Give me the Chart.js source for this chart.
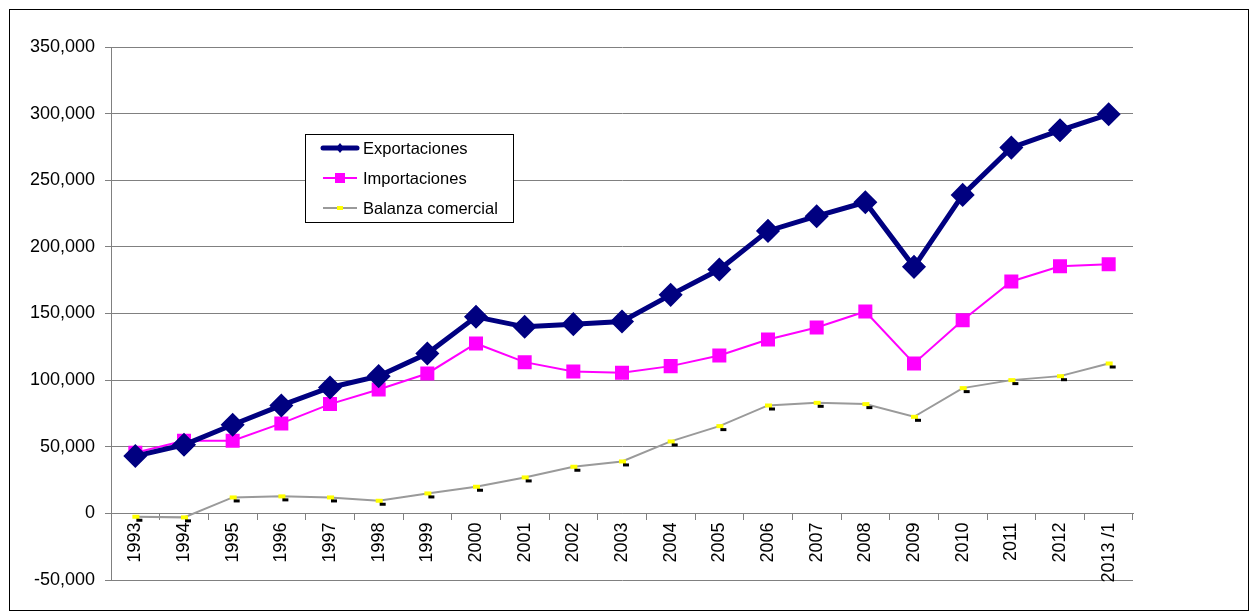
<!DOCTYPE html>
<html>
<head>
<meta charset="utf-8">
<script src="https://cdn.jsdelivr.net/npm/chart.js@4"></script>
<style>
  html, body { margin: 0; padding: 0; background: #fff; }
  body { width: 1258px; height: 613px; position: relative; overflow: hidden; font-family: "Liberation Sans", Arial, sans-serif; }
  .frame { position: absolute; left: 9px; top: 9px; width: 1240px; height: 602px; border: 1px solid #000; box-sizing: border-box; }
  .frame canvas { position: absolute; left: 0; top: 0; }
  .legend { position: absolute; left: 305px; top: 134px; width: 209px; height: 89px; border: 1px solid #000; box-sizing: border-box; background: #fff; }
  .legend .row { position: absolute; left: 14px; height: 20px; display: flex; align-items: center; font-size: 16.5px; color: #000; }
  .legend .row canvas { margin-right: 3px; }
</style>
</head>
<body>
<div class="frame"><canvas id="chart" width="1238" height="600"></canvas></div>
<div class="legend" id="legend"></div>
<script>
const years = ['1993', '1994', '1995', '1996', '1997', '1998', '1999', '2000', '2001', '2002', '2003',
  '2004', '2005', '2006', '2007', '2008', '2009', '2010', '2011', '2012', '2013 /1'];

const exportaciones = [43000, 51500, 66500, 81000, 94500, 103000, 120000, 147500, 140000, 142000, 144000,
  164000, 183000, 212000, 223000, 233500, 185000, 239000, 274500, 287500, 299500];

const importaciones = [45500, 54500, 54500, 67500, 82000, 93000, 105000, 127500, 113500, 106500, 105500,
  110500, 118500, 130500, 139500, 151500, 112500, 145000, 174000, 185500, 187000];

const balanza = [-2500, -3000, 12000, 12800, 12000, 9500, 15000, 20000, 27000, 35000, 39000,
  54000, 65500, 81000, 83000, 82000, 72500, 94000, 100000, 103000, 112500];

const yTicks = { min: -50000, max: 350000, step: 50000 };

const FONT = '"Liberation Sans", Arial, sans-serif';

// yellow marker with small black shadow under it
function balanzaMarker() {
  const c = document.createElement('canvas');
  c.width = 16; c.height = 12;
  const g = c.getContext('2d');
  g.fillStyle = '#000';
  g.fillRect(9, 8, 6, 3);
  g.fillStyle = '#ffff00';
  g.fillRect(5, 4, 7, 4);
  return c;
}

const ctx = document.getElementById('chart').getContext('2d');
new Chart(ctx, {
  type: 'line',
  data: {
    labels: years,
    datasets: [
      {
        label: 'Exportaciones',
        data: exportaciones,
        borderColor: '#000080',
        backgroundColor: '#000080',
        borderWidth: 5,
        pointStyle: 'rectRot',
        pointRadius: 8.5,
        pointHoverRadius: 8.5,
        order: 1
      },
      {
        label: 'Importaciones',
        data: importaciones,
        borderColor: '#ff00ff',
        backgroundColor: '#ff00ff',
        borderWidth: 2,
        pointStyle: 'rect',
        pointRadius: 8.5,
        pointHoverRadius: 8.5,
        order: 2
      },
      {
        label: 'Balanza comercial',
        data: balanza,
        borderColor: '#9a9a9a',
        backgroundColor: '#ffff00',
        borderWidth: 2,
        pointStyle: balanzaMarker(),
        order: 3
      }
    ]
  },
  options: {
    responsive: false,
    animation: false,
    layout: { padding: { top: 37, right: 115, bottom: 30, left: 0 } },
    plugins: {
      legend: { display: false },
      tooltip: { enabled: false }
    },
    elements: { line: { tension: 0 } },
    scales: {
      x: {
        type: 'category',
        position: { y: 0 },
        offset: true,
        grid: {
          offset: true,
          drawOnChartArea: false,
          drawTicks: true,
          tickLength: 6,
          color: '#808080'
        },
        border: { display: true, color: '#808080', width: 1 },
        ticks: {
          autoSkip: false,
          minRotation: 90,
          maxRotation: 90,
          padding: 3,
          color: '#000',
          font: { family: FONT, size: 18 }
        }
      },
      y: {
        min: yTicks.min,
        max: yTicks.max,
        afterFit: (s) => { s.width = 101; },
        grid: {
          color: '#808080',
          lineWidth: 1,
          drawTicks: true,
          tickLength: 6
        },
        border: { display: true, color: '#808080', width: 1 },
        ticks: {
          stepSize: yTicks.step,
          padding: 10,
          color: '#000',
          font: { family: FONT, size: 18 },
          callback: (v) => v.toLocaleString('en-US')
        }
      }
    }
  }
});

// legend drawn as html box inside the plot
const legendItems = [
  { text: 'Exportaciones', color: '#000080', width: 5, marker: 'diamond', top: 3 },
  { text: 'Importaciones', color: '#ff00ff', width: 2, marker: 'square', top: 33 },
  { text: 'Balanza comercial', color: '#9a9a9a', width: 2, marker: 'yellow', top: 63 }
];
const legendEl = document.getElementById('legend');
legendItems.forEach(item => {
  const row = document.createElement('div');
  row.className = 'row';
  row.style.top = item.top + 'px';
  const c = document.createElement('canvas');
  c.width = 40; c.height = 20;
  const g = c.getContext('2d');
  g.strokeStyle = item.color;
  g.lineWidth = item.width;
  g.lineCap = item.marker === 'diamond' ? 'round' : 'butt';
  g.beginPath();
  g.moveTo(3, 10); g.lineTo(37, 10);
  g.stroke();
  if (item.marker === 'diamond') {
    g.fillStyle = item.color;
    g.beginPath();
    g.moveTo(20, 5); g.lineTo(24, 10); g.lineTo(20, 15); g.lineTo(16, 10);
    g.closePath(); g.fill();
  } else if (item.marker === 'square') {
    g.fillStyle = item.color;
    g.fillRect(15, 5, 10, 10);
  } else {
    g.fillStyle = '#ffff00';
    g.fillRect(17, 8, 6, 4);
  }
  row.appendChild(c);
  const span = document.createElement('span');
  span.textContent = item.text;
  row.appendChild(span);
  legendEl.appendChild(row);
});
</script>
</body>
</html>
